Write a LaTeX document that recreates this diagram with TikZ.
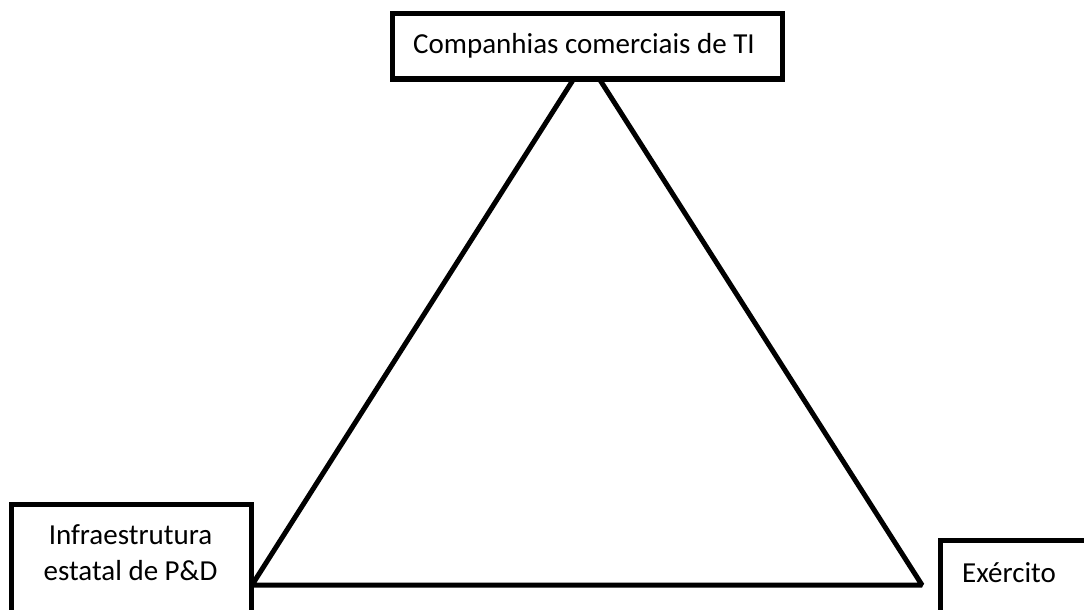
\documentclass[tikz,border=0pt]{standalone}
\usepackage{fontspec}
\setmainfont{Carlito}
\begin{document}
\begin{tikzpicture}[x=1pt,y=-1pt,
  box/.style={draw=black, fill=white, line width=5pt, inner sep=0pt},
  edge/.style={draw=black, line width=5pt, line join=bevel},
  lbl/.style={font=\fontsize{29}{36}\selectfont, inner sep=0pt, text=black}]
\useasboundingbox (0,0) rectangle (1084,610);
% triangle corners
\coordinate (apex) at (586.5,58.8);
\coordinate (L) at (252,585);
\coordinate (R) at (922,585);
\draw[edge] (apex) -- (L) -- (R) -- cycle;
% boxes
\node[box, minimum width=390.5pt, minimum height=65pt] (top) at (587.25,46.5) {};
\node[box, minimum width=240pt, minimum height=146pt] (left) at (131,577) {};
\node[box, minimum width=189.5pt, minimum height=71.5pt] (right) at (1035.25,576.25) {};
% labels
\node[lbl, anchor=base] (tc) at (584,53) {Companhias comerciais de TI};
\node[lbl, anchor=base, align=center] (ti) at (130.5,580) {Infraestrutura\\estatal de P\&D};
\node[lbl, anchor=base west] (te) at (962,582) {Exército};
\end{tikzpicture}
\end{document}
